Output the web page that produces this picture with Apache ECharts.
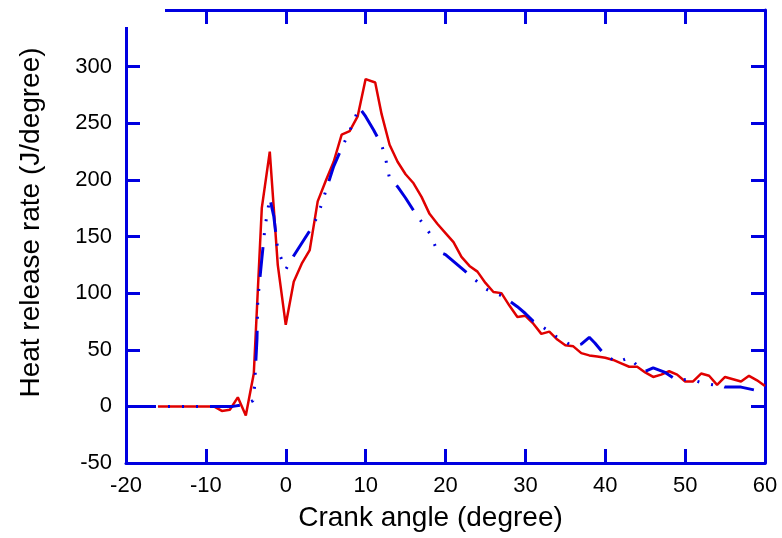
<!DOCTYPE html>
<html>
<head>
<meta charset="utf-8">
<script src="https://cdn.jsdelivr.net/npm/echarts@6/dist/echarts.min.js"></script>
<style>html,body{margin:0;padding:0;background:#fff}#c{width:782px;height:538px}</style>
</head>
<body>
<div id="c"></div>
<script>
var xTicks = { min: -20, max: 60, step: 10 };
var yTicks = { min: -50, max: 350, step: 50 };

var redAngle = [-16,-9,-8,-7,-6,-5,-4,-3,-2,-1,0,1,2,3,4,5,6,7,8,9,10,11.2,12,13,14,15,16,17,18,19,20,21,22,23,24,25,26,27,28,29,30,31,32,33,34,35,36,37,38,39,40,41,42,43,44,45,46,47,48,49,50,51,52,53,54,55,56,57,58,59,60];
var redRate  = [0,0,-4,-3,8,-8,29,175,225,125,72,110,126,138,181,199,216,240,243,256,289,286,258,231,216,205,197,185,170,161,153,145,132,124,119,109,101,100,89,79,80,73,64,66,59,54,53,47,45,44,43,41,38,35,35,30,26,28,31,28,22,22,29,27,19,26,24,22,27,23,18];

var blueAngle = [-20,-6.6,-5,-4.1,-3.9,-3.6,-3.5,-3,-2.6,-2,-1.5,-1,0,1,2,3,4,5,5.5,6,7,8,9.2,10,11,12,12.5,13,14,15,16,17,18,19,20,21,22,23,24,25,26,27,28,29,30,31,32,33,34,35,36,37,38,38.7,40,41.5,43,44,45,46,47.5,49,50.7,52,53.5,54,55,57,59,60];
var blueRate  = [0,0,2,5,18,60,94,130,158,184,168,138,121,133,144,155,168,190,201,212,228,243,264,256,244,231,219,201,194,184,173,163,153,137,134,128,122,116,110,104,100,98,93,88,82,75,71,66,61,57,53,55,61,56,45,39,43,36,31,34,30,23,24,21,19,20,17,17,14,13];

function pairs(xs, ys) { return xs.map(function (x, i) { return [x, ys[i]]; }); }

var AX = '#0000e0';
var FONT = '"Liberation Sans", Arial, sans-serif';

var chart = echarts.init(document.getElementById('c'));
chart.setOption({
  animation: false,
  backgroundColor: '#fff',
  grid: { left: 126, right: 17, top: 10, bottom: 75 },
  xAxis: [{
    type: 'value', min: xTicks.min, max: xTicks.max, interval: xTicks.step,
    position: 'bottom',
    name: 'Crank angle (degree)', nameLocation: 'middle', nameGap: 41,
    nameTextStyle: { fontFamily: FONT, fontSize: 28, color: '#000', padding: [0, 30, 0, 0] },
    axisLine: { show: true, onZero: false, lineStyle: { color: AX, width: 3 } },
    axisTick: { show: true, inside: true, length: 14, lineStyle: { color: AX, width: 3 } },
    axisLabel: { margin: 12, fontFamily: FONT, fontSize: 22, color: '#000' },
    splitLine: { show: false }
  }, {
    type: 'value', min: xTicks.min, max: xTicks.max, interval: xTicks.step,
    position: 'top',
    axisLine: { show: true, onZero: false, lineStyle: { color: AX, width: 3 } },
    axisTick: { show: true, inside: true, length: 14, lineStyle: { color: AX, width: 3 } },
    axisLabel: { show: false },
    splitLine: { show: false }
  }],
  yAxis: [{
    type: 'value', min: yTicks.min, max: yTicks.max, interval: yTicks.step,
    position: 'left',
    name: 'Heat release rate (J/degree)', nameLocation: 'middle', nameGap: 81,
    nameTextStyle: { fontFamily: FONT, fontSize: 28, color: '#000', padding: [0, 0, 0, 28] },
    axisLine: { show: true, onZero: false, lineStyle: { color: AX, width: 3 } },
    axisTick: { show: true, inside: true, length: 14, lineStyle: { color: AX, width: 3 } },
    axisLabel: { margin: 14, fontFamily: FONT, fontSize: 22, color: '#000', showMaxLabel: false },
    splitLine: { show: false }
  }, {
    type: 'value', min: yTicks.min, max: yTicks.max, interval: yTicks.step,
    position: 'right',
    axisLine: { show: true, onZero: false, lineStyle: { color: AX, width: 3 } },
    axisTick: { show: true, inside: true, length: 14, lineStyle: { color: AX, width: 3 } },
    axisLabel: { show: false },
    splitLine: { show: false }
  }],
  graphic: [{
    type: 'rect', z: 1000,
    shape: { x: 112, y: 0, width: 53, height: 27 },
    style: { fill: '#fff' }
  }],
  series: [{
    type: 'line', xAxisIndex: 0, yAxisIndex: 0,
    data: pairs(redAngle, redRate),
    showSymbol: false, symbol: 'none',
    lineStyle: { color: '#e00000', width: 2.5 },
    z: 2
  }, {
    type: 'line', xAxisIndex: 0, yAxisIndex: 0,
    data: pairs(blueAngle, blueRate),
    showSymbol: false, symbol: 'none',
    lineStyle: { color: '#0000e0', width: 3, type: [30, 12, 2, 12, 2, 12, 2, 12], cap: 'butt' },
    z: 3
  }]
});
</script>
</body>
</html>
